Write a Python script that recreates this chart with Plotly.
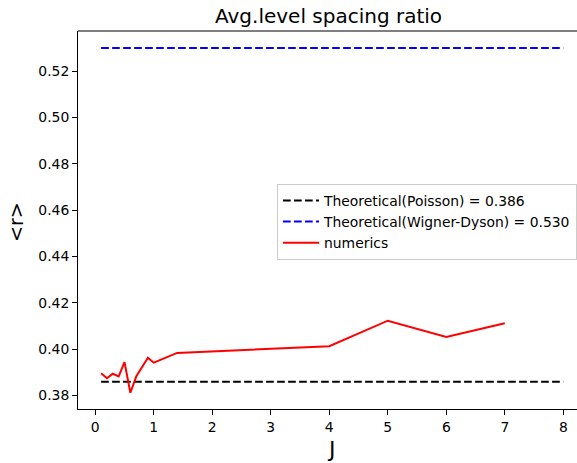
import plotly.graph_objects as go

# ---- data ----
J_numerics = [0.1, 0.2, 0.3, 0.4, 0.5, 0.6, 0.7, 0.9, 1.0, 1.4, 4.0, 5.0, 6.0, 7.0]
r_numerics = [0.3896, 0.3875, 0.3894, 0.3883, 0.3944, 0.3812, 0.3882, 0.3963, 0.3942,
              0.3984, 0.4013, 0.4123, 0.4053, 0.4112]
J_theory = [0.1, 8.0]
r_poisson = [0.386, 0.386]
r_wd = [0.530, 0.530]
x_ticks = [0, 1, 2, 3, 4, 5, 6, 7, 8]
y_ticks = [0.38, 0.40, 0.42, 0.44, 0.46, 0.48, 0.50, 0.52]

FONT = "DejaVu Sans"
DASH = "7.7px,3.3px"
LW = 2.0
W, H = 577, 463
ML, MR, MT, MB = 78, 0, 31, 54
PW, PH = W - ML - MR, H - MT - MB


def px_x(px):
    return (px - ML) / PW


def px_y(py):
    return (H - MB - py) / PH


fig = go.Figure()
fig.add_trace(go.Scatter(x=J_theory, y=r_poisson, mode="lines",
                         line=dict(color="black", width=LW, dash=DASH),
                         name="Theoretical(Poisson) = 0.386"))
fig.add_trace(go.Scatter(x=J_theory, y=r_wd, mode="lines",
                         line=dict(color="#0000ff", width=LW, dash=DASH),
                         name="Theoretical(Wigner-Dyson) = 0.530"))
fig.add_trace(go.Scatter(x=J_numerics, y=r_numerics, mode="lines",
                         line=dict(color="#ff0000", width=LW),
                         name="numerics"))

axis_common = dict(showgrid=False, zeroline=False, showline=True, linecolor="black",
                   linewidth=1.1, ticks="outside", ticklen=4.9, tickwidth=1.1,
                   tickcolor="black", tickfont=dict(family=FONT, size=13.9, color="black"))

fig.update_layout(
    width=W, height=H,
    margin=dict(l=ML, r=MR, t=MT, b=MB),
    paper_bgcolor="white", plot_bgcolor="white",
    font=dict(family=FONT, color="black"),
    xaxis=dict(range=[-0.295, 8.234], tickvals=x_ticks,
               ticktext=[str(v) for v in x_ticks], **axis_common),
    yaxis=dict(range=[0.3742, 0.5373], tickvals=y_ticks,
               ticktext=[f"{v:.2f}" for v in y_ticks], **axis_common),
    showlegend=True,
    legend=dict(x=1, xanchor="right", y=px_y(184), yanchor="top",
                bgcolor="rgba(255,255,255,0.8)", bordercolor="#cccccc", borderwidth=1,
                font=dict(family=FONT, size=13.9, color="black"), tracegroupgap=0,
                itemwidth=36),
    shapes=[dict(type="line", xref="paper", yref="paper", x0=0, x1=1, y0=1, y1=1,
                 line=dict(color="black", width=1.1), layer="above")],
    annotations=[
        dict(text="Avg.level spacing ratio", xref="paper", yref="paper",
             x=px_x(328.5), y=px_y(15.5), yanchor="middle",
             xanchor="center", showarrow=False,
             font=dict(family=FONT, size=20, color="black")),
        dict(text="J", xref="paper", yref="paper", x=px_x(331),
             y=px_y(449), xanchor="center", yanchor="middle",
             showarrow=False, font=dict(family=FONT, size=22, color="black")),
        dict(text="&lt;r&gt;", xref="paper", yref="paper", x=px_x(16), y=px_y(222),
             xanchor="center", yanchor="middle", textangle=-90,
             showarrow=False, font=dict(family=FONT, size=19, color="black")),
    ],
)

fig.write_html("out.html")
